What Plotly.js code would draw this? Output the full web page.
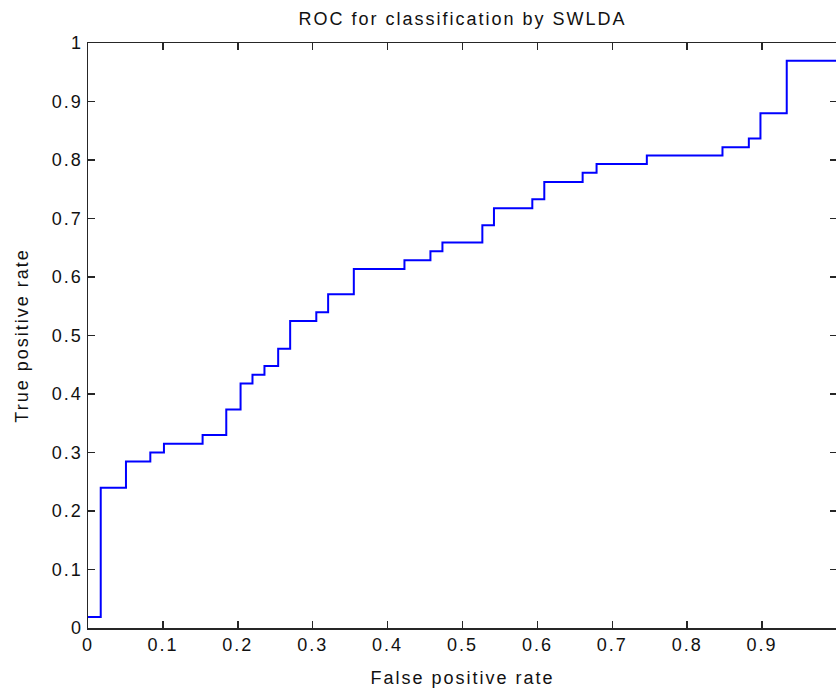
<!DOCTYPE html>
<html>
<head>
<meta charset="utf-8">
<script src="https://cdn.plot.ly/plotly-3.0.1.min.js"></script>
<style>
html, body { margin: 0; padding: 0; overflow: hidden; background: #fff; }
#chart { width: 836px; height: 690px; overflow: hidden; }
.main-svg text { letter-spacing: 2px; }
</style>
</head>
<body>
<div id="chart"></div>
<script>
// ROC curve corner points (false positive rate, true positive rate)
var fpr = [0, 0.017, 0.0507, 0.0832, 0.1014, 0.153, 0.1846, 0.2037, 0.2196, 0.2356,
           0.2539, 0.2699, 0.3048, 0.3206, 0.3549, 0.4225, 0.4572, 0.4732, 0.5265, 0.5420,
           0.5932, 0.6092, 0.6604, 0.679, 0.7461, 0.8471, 0.8823, 0.8978, 0.9329, 1];
var tpr = [0.0188, 0.2396, 0.2847, 0.300, 0.3149, 0.330, 0.3737, 0.418, 0.433, 0.448,
           0.4774, 0.5248, 0.5397, 0.5705, 0.6138, 0.6287, 0.644, 0.6588, 0.6886, 0.7176,
           0.733, 0.7622, 0.778, 0.793, 0.8077, 0.822, 0.8368, 0.880, 0.9697, 0.9697];
var tickVals = [0, 0.1, 0.2, 0.3, 0.4, 0.5, 0.6, 0.7, 0.8, 0.9, 1];
var tickText = ['0', '0.1', '0.2', '0.3', '0.4', '0.5', '0.6', '0.7', '0.8', '0.9', '1'];

var font = {family: 'Liberation Sans, Arial, sans-serif', size: 18, color: '#111'};
var axisCommon = {
  range: [0, 1], tickvals: tickVals, ticktext: tickText,
  ticks: 'inside', ticklen: 7, tickwidth: 1.5, tickcolor: '#262626',
  showline: true, linecolor: '#262626', linewidth: 1.5, mirror: 'ticks',
  showgrid: false, zeroline: false, tickfont: font, fixedrange: true
};

var trace = {
  x: fpr, y: tpr, type: 'scatter', mode: 'lines',
  line: {shape: 'hv', color: '#0000ff', width: 2}, hoverinfo: 'skip'
};

var layout = {
  width: 840, height: 690,
  margin: {l: 88, r: 3, t: 43, b: 62},
  paper_bgcolor: '#fff', plot_bgcolor: '#fff',
  showlegend: false,
  font: font,
  title: {text: 'ROC for classification by SWLDA', font: font,
          x: 0.5, xanchor: 'center', xref: 'paper',
          y: 1 - 19 / 690, yanchor: 'middle', yref: 'container'},
  xaxis: Object.assign({}, axisCommon, {
    title: {text: 'False positive rate', font: font, standoff: 17}
  }),
  yaxis: Object.assign({}, axisCommon, {
    title: {text: 'True positive rate', font: font, standoff: 24}
  })
};

Plotly.newPlot('chart', [trace], layout, {displayModeBar: false, staticPlot: true});
</script>
</body>
</html>
